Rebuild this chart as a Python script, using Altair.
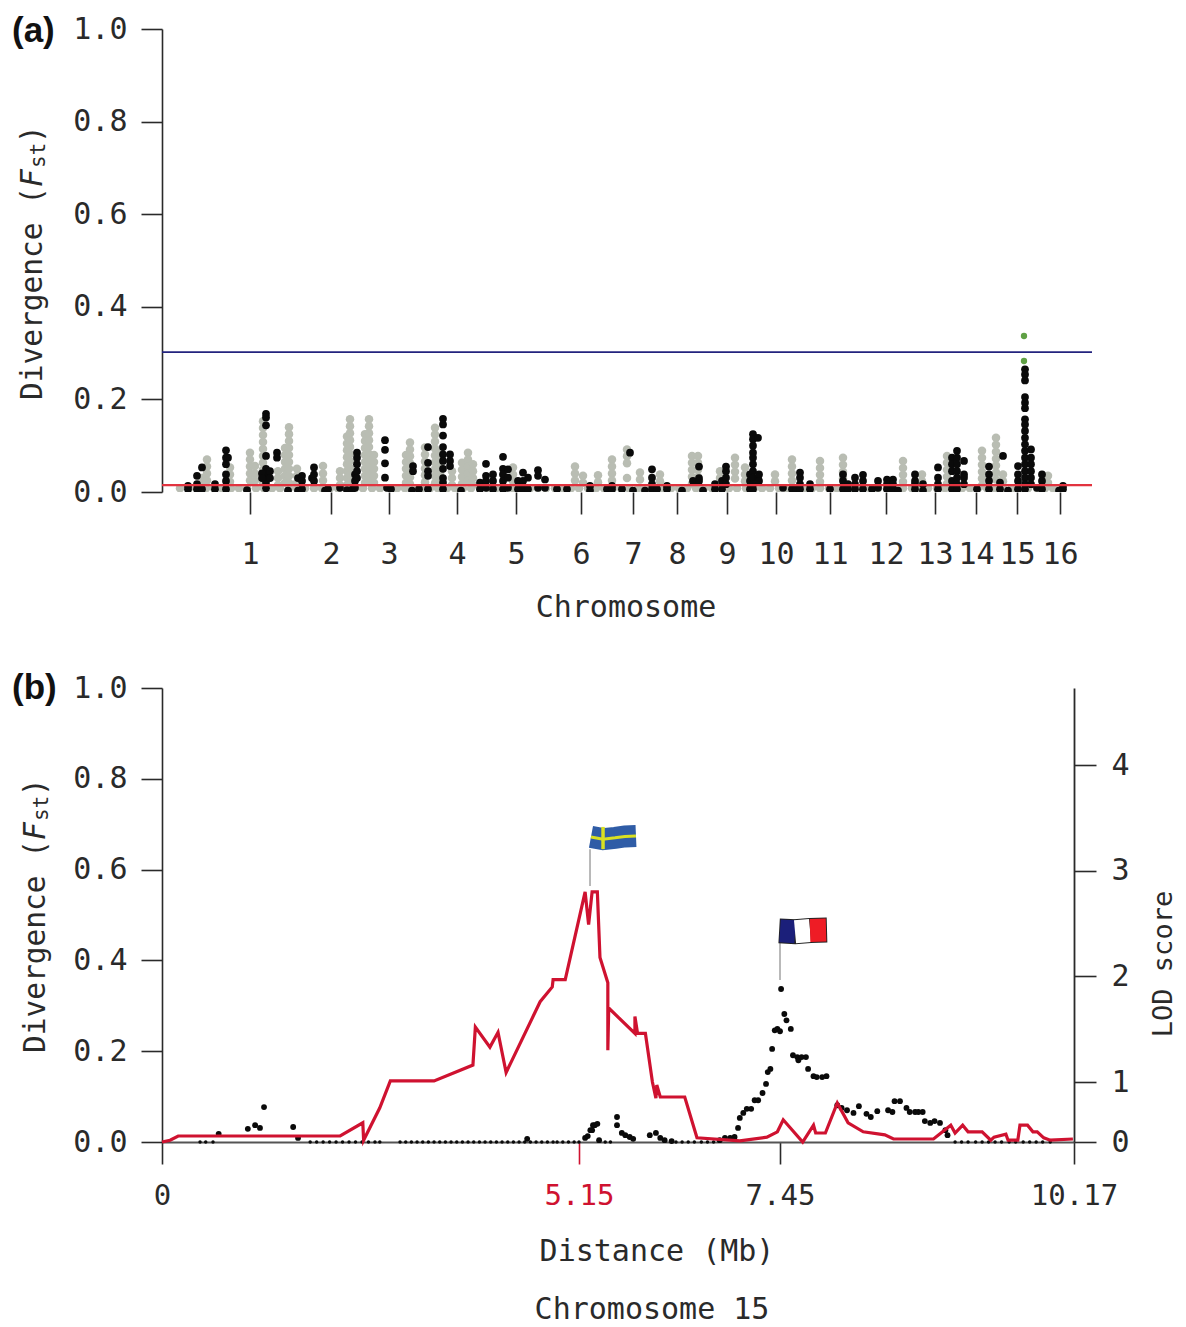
import altair as alt
import pandas as pd

# ---------- panel (a): genome scan, position in arbitrary genome units ----------
chrom_ticks = [88, 169, 227, 295, 354, 419, 471, 515, 565, 614, 668, 724, 773, 814, 855, 898]
upper_line = 0.302
lower_line = 0.015

gray_base = [18, 27, 35, 44, 52, 60, 69, 77, 85, 94, 102, 110, 118, 127, 135, 143, 152, 160, 168,
             176, 185, 193, 201, 210, 218, 226, 235, 243, 251, 260, 268, 276, 285, 293, 301, 309,
             318, 326, 334, 343, 351, 359, 368, 376, 384, 393, 401, 409, 417, 426, 434, 442, 451,
             459, 467, 476, 484, 492, 500, 509, 517, 525, 534, 542, 550, 559, 567, 575, 584, 592,
             600, 608, 617, 625, 633, 642, 650, 658, 667, 675, 683, 692, 700, 708, 716, 725, 733,
             741, 750, 758, 766, 775, 783, 791, 800, 808, 816, 825, 833, 841, 850, 858, 866, 875,
             883, 891, 899]

gray_cols = [
    (40, [.03, .015]),
    (45, [.07, .055, .04, .025]),
    (68, [.053, .038, .022]),
    (88, [.085, .07, .055, .04, .025]),
    (93, [.056, .04, .025]),
    (101, [.153, .138, .123, .108, .093, .078, .063, .048, .033, .018]),
    (116, [.045, .03, .015]),
    (123, [.095, .08, .065, .05, .035, .02]),
    (127, [.14, .125, .11, .095, .08, .065, .05, .035, .02]),
    (135, [.05, .035, .02]),
    (161, [.056, .04, .025]),
    (178, [.045, .03, .015]),
    (185, [.12, .105, .09, .075, .06, .045, .03, .015]),
    (188, [.157, .142, .127, .112, .097, .082, .067, .052, .037, .022]),
    (203, [.125, .11, .095, .08, .065, .05, .035, .02]),
    (207, [.157, .142, .127, .112, .097, .082, .067, .052, .037, .022]),
    (212, [.08, .065, .05, .035, .02]),
    (244, [.08, .065, .05, .035, .02]),
    (248, [.107, .092, .077, .062, .047, .032, .017]),
    (263, [.096, .081, .066, .051, .036, .021]),
    (273, [.139, .124, .109, .094, .079, .064, .049, .034, .019]),
    (278, [.085, .07, .055, .04, .025]),
    (290, [.045, .03, .015]),
    (300, [.063, .048, .033, .018]),
    (306, [.085, .07, .055, .04, .025]),
    (311, [.06, .045, .03, .015]),
    (351, [.053, .038, .023]),
    (413, [.055, .04, .025]),
    (421, [.035, .02]),
    (436, [.036, .021]),
    (450, [.07, .055, .04, .025]),
    (465, [.092, .077, .062, .03]),
    (478, [.042, .027]),
    (498, [.038, .023]),
    (530, [.078, .063, .048, .033, .018]),
    (536, [.078, .063, .048, .033]),
    (558, [.045, .03]),
    (573, [.074, .059, .044, .029]),
    (583, [.053, .038, .023]),
    (613, [.038, .023]),
    (630, [.07, .055, .04, .025]),
    (658, [.067, .052, .037, .022]),
    (681, [.074, .059, .044, .029]),
    (741, [.067, .052, .037, .022]),
    (760, [.038, .023]),
    (785, [.078, .063, .048, .033, .018]),
    (820, [.089, .074, .059, .044, .029, .014]),
    (834, [.117, .102, .087, .072, .057, .042, .027]),
    (841, [.038, .023]),
    (886, [.035, .02]),
]

black_cols = [
    (26, [.013, .006]), (35, [.035, .017, .006]), (40, [.053, .006]), (53, [.017, .006]),
    (64, [.09, .074, .06, .038, .024, .006]), (66, [.074]), (85, [.004]),
    (104, [.169, .161, .144, .078, .05, .04, .03, .02, .008]), (100, [.04, .03]), (108, [.045, .03]),
    (115, [.085, .074]), (126, [.003]), (136, [.03, .003]), (140, [.035, .024, .006]),
    (150, [.03]), (152, [.053, .038, .024]), (163, [.003]), (166, [.006]),
    (178, [.009]), (185, [.004]), (190, [.005]),
    (193, [.038, .024, .009]), (195, [.085, .074, .06, .045, .03]),
    (223, [.112, .091, .062, .031]), (225, [.009]), (229, [.006]),
    (251, [.056, .045]), (250, [.003]), (257, [.006]),
    (266, [.097, .063, .045, .035, .006]),
    (281, [.158, .146, .122, .097, .081, .067, .05, .03, .02, .006]), (288, [.081, .067, .056]),
    (299, [.003]), (318, [.02, .006]), (324, [.061, .035, .024, .009]),
    (331, [.038, .024, .006]), (341, [.076, .05, .038, .024, .006]), (346, [.049, .031, .009]),
    (356, [.024, .006]), (361, [.042, .024, .006]), (366, [.031, .006]),
    (376, [.047, .035, .009]), (383, [.027, .009]), (395, [.006]), (405, [.006]),
    (428, [.013, .003]), (445, [.006]), (450, [.013, .006]), (460, [.006]), (468, [.085]), (471, [.003]),
    (483, [.003]), (490, [.049, .031, .017, .006]), (495, [.006]), (505, [.013, .006]),
    (520, [.003]), (531, [.024]), (537, [.055, .03, .024]), (541, [.003]),
    (553, [.017, .006]), (560, [.024, .006]), (564, [.055, .045, .031, .017]),
    (588, [.038, .024, .006]),
    (591, [.125, .114, .1, .085, .074, .06, .045, .031, .017, .006]),
    (596, [.117, .03]), (597, [.038, .024]),
    (621, [.009]), (630, [.006]), (634, [.006]), (638, [.042, .031, .017, .006]),
    (648, [.017, .006]), (668, [.006]),
    (681, [.038, .024, .006]), (686, [.017, .006]), (693, [.031, .017, .006]), (701, [.037, .024, .006]),
    (710, [.006]), (716, [.024, .009]), (725, [.027, .017, .006]), (731, [.027, .017, .006]), (736, [.003]),
    (753, [.038, .024, .017, .006]), (761, [.017, .003]),
    (776, [.053, .031, .017, .006]),
    (790, [.074, .06, .045, .024, .006]), (795, [.089, .074, .06, .045, .031, .017, .006]),
    (802, [.067, .038, .031, .017]),
    (815, [.006]), (827, [.055, .038, .024, .006]), (838, [.02, .006]), (841, [.078]), (846, [.003]),
    (856, [.056, .038, .024, .006]),
    (863, [.265, .254, .241, .205, .193, .181, .157, .146, .132, .117, .103, .089, .074, .06, .045, .031, .017, .006]),
    (869, [.092, .074, .06, .045, .031, .017]),
    (875, [.009]), (880, [.038, .024, .006]), (897, [.003]), (901, [.013, .006]),
]
green_pos = [862, 862]
green_fst = [0.337, 0.283]

gray_rows = [{"pos": p, "fst": 0.008} for p in gray_base] + [
    {"pos": p, "fst": v} for p, vals in gray_cols for v in vals]
black_rows = [{"pos": p, "fst": v} for p, vals in black_cols for v in vals]

# ---------- panel (b): chromosome 15 ----------
x_ticks = [0, 5.15, 7.45, 10.17]
lod_ticks = [0, 1, 2, 3, 4]

dot_mb = [0.70, 1.06, 1.15, 1.21, 1.26, 1.62, 1.68, 4.51, 5.22, 5.25, 5.28, 5.30, 5.31, 5.33, 5.36, 5.38,
          5.585, 5.585, 5.64, 5.68, 5.73, 5.77, 5.96, 6.03, 6.08, 6.13, 6.21, 6.76, 6.82, 6.88, 6.93, 6.97,
          6.99, 7.03, 7.07, 7.12, 7.16, 7.20, 7.25, 7.29, 7.31, 7.34, 7.36, 7.39, 7.42, 7.45, 7.46, 7.49,
          7.51, 7.55, 7.57, 7.61, 7.62, 7.65, 7.69, 7.71, 7.76, 7.79, 7.84, 7.88, 7.98, 8.02, 8.07, 8.13,
          8.18, 8.25, 8.29, 8.35, 8.45, 8.49, 8.51, 8.56, 8.62, 8.65, 8.70, 8.73, 8.77, 8.79, 8.84, 8.88,
          8.93, 8.98, 9.00]
dot_fst = [.018, .029, .037, .031, .077, .033, .009, .007, .009, .013, .026, .026, .037, .037, .040, .004,
           .055, .037, .020, .015, .011, .007, .015, .020, .009, .004, .002, .004, .009, .009, .011, .031,
           .053, .064, .073, .073, .092, .092, .108, .128, .154, .161, .205, .246, .249, .244, .337, .282,
           .268, .249, .191, .187, .180, .187, .187, .161, .145, .143, .143, .145, .081, .075, .070, .064,
           .079, .062, .055, .068, .070, .066, .090, .090, .075, .066, .066, .066, .066, .046, .042, .046,
           .042, .026, .015]
baseline_mb = [0.47, 0.54, 0.63, 1.83, 1.91, 1.99, 2.07, 2.15, 2.23, 2.31, 2.39, 2.47, 2.55, 2.63, 2.69,
               2.94, 3.01, 3.08, 3.15, 3.22, 3.29, 3.36, 3.43, 3.50, 3.57, 3.64, 3.71, 3.78, 3.85, 3.92,
               3.99, 4.06, 4.13, 4.20, 4.27, 4.34, 4.41, 4.48, 4.55, 4.62, 4.69, 4.76, 4.83, 4.88, 4.95,
               5.02, 5.09, 5.15, 5.45, 5.51, 6.26, 6.33, 6.40, 6.47, 6.55, 6.62, 6.69, 9.07, 9.13, 9.19,
               9.26, 9.32, 9.38, 9.44, 9.50, 9.57, 9.63, 9.70, 9.76, 9.82, 9.88, 9.95]

lod_mb = [0, .10, .20, 2.20, 2.48, 2.49, 2.69, 2.82, 3.36, 3.84, 3.87, 4.05, 4.15, 4.25, 4.67, 4.82, 4.83,
          4.98, 5.22, 5.26, 5.30, 5.36, 5.39, 5.48, 5.48, 5.49, 5.79, 5.79, 5.82, 5.91, 5.99, 6.03, 6.04,
          6.08, 6.36, 6.50, 6.99, 7.30, 7.42, 7.48, 7.66, 7.76, 7.78, 7.87, 7.98, 8.08, 8.22, 8.42, 8.50,
          8.87, 9.03, 9.07, 9.14, 9.19, 9.32, 9.40, 9.43, 9.54, 9.56, 9.65, 9.67, 9.74, 9.79, 9.83, 9.89,
          9.95, 10.16]
lod_val = [0, .03, .10, .10, .32, .03, .57, 1.01, 1.01, 1.16, 1.52, 1.33, 1.47, 1.09, 1.76, 1.90, 1.97,
           1.97, 2.80, 2.49, 2.80, 2.80, 2.18, 1.94, 1.30, 1.70, 1.46, 1.62, 1.46, 1.46, 1.0, .73, .95,
           .75, .75, .07, .02, .08, .17, .37, 0, .28, .15, .15, .65, .32, .17, .12, .05,
           .05, .28, .15, .28, .17, .17, .03, .08, .13, .03, .03, .28, .28, .17, .17, .07,
           .03, .05]

# flags, in Mb / Fst
se_mb = [5.287, 5.425, 5.562, 5.676, 5.802]
se_fst = [.672, .667, .670, .673, .674]
fr_blue_mb, fr_blue_fst = [7.45, 7.589], [.465, .463]
fr_white_mb, fr_white_fst = [7.589, 7.728], [.463, .466]
fr_red_mb, fr_red_fst = [7.728, 7.876], [.466, .467]

MONO = "DejaVu Sans Mono"
INK = "#2a2a2a"
RED = "#cf1230"
A_W, A_H, B_W, B_H = 930, 463, 912, 454

xa = alt.X("pos:Q", scale=alt.Scale(domain=[0, A_W], nice=False, zero=False))
ya = alt.Y("fst:Q", scale=alt.Scale(domain=[0, 1], nice=False))
x_b_scale = alt.Scale(domain=x_ticks, range=[0, 417, 618, 912], nice=False, zero=False)
y_f_scale = alt.Scale(domain=[0, 1], nice=False)
lod_scale = alt.Scale(domain=[0, 1, 4.73], range=[454, 394, 0], nice=False, zero=False)


def left_axis():
    return alt.Axis(values=[0, .2, .4, .6, .8, 1], format=".1f", title=None, grid=False,
                    tickSize=21, tickWidth=1.6, tickColor=INK, domainColor=INK, domainWidth=1.6,
                    labelFont=MONO, labelFontSize=30, labelColor=INK, labelPadding=14)


def txt(s, x, y, size=30, font=MONO, align="center", angle=0, color=INK, weight="normal",
        style="normal", baseline="middle"):
    return alt.Chart(pd.DataFrame({"t": [s]})).mark_text(
        text=s, font=font, fontSize=size, align=align, baseline=baseline, angle=angle,
        color=color, fontWeight=weight, fontStyle=style
    ).encode(x=alt.value(x), y=alt.value(y))


def fst_title(x, y_bottom):
    return [
        txt("Divergence (", x, y_bottom, size=29.5, align="left", angle=270),
        txt("F", x, y_bottom - 213, size=29.5, align="left", angle=270, style="italic"),
        txt("st", x + 6, y_bottom - 232, size=21, align="left", angle=270),
        txt(")", x, y_bottom - 257, size=29.5, align="left", angle=270),
    ]


# ---- panel a ----
gray = alt.Chart(pd.DataFrame(gray_rows)).mark_circle(size=72, opacity=1, color="#b9bdb3", clip=True).encode(
    x=xa.axis(alt.Axis(values=chrom_ticks, title=None, grid=False, domain=False, tickSize=22, tickWidth=1.6,
                       tickColor=INK, labelFont=MONO, labelFontSize=30, labelColor=INK, labelPadding=25,
                       labelOverlap=False, labelFlush=False,
                       labelExpr="indexof(%s, datum.value) + 1" % str(chrom_ticks))),
    y=ya.axis(left_axis()))
black = alt.Chart(pd.DataFrame(black_rows)).mark_circle(size=60, opacity=1, color="#0a0a0a", clip=True).encode(x=xa, y=ya)
green = alt.Chart(pd.DataFrame({"pos": green_pos, "fst": green_fst})).mark_circle(
    size=40, opacity=1, color="#5fa044").encode(x=xa, y=ya)
red_rule = alt.Chart(pd.DataFrame({"fst": [lower_line]})).mark_rule(color="#e2333f", strokeWidth=2.2).encode(y=ya)
blue_rule = alt.Chart(pd.DataFrame({"fst": [upper_line]})).mark_rule(color="#23237e", strokeWidth=1.8).encode(y=ya)

panel_a = alt.layer(
    gray, black, green, red_rule, blue_rule,
    *fst_title(-129, 371),
    txt("(a)", -150, 2, size=35, font="Liberation Sans", align="left", weight="bold", color="#111"),
    txt("Chromosome", 464, 579, size=30),
).properties(width=A_W, height=A_H)

# ---- panel b ----
xb_axis = alt.Axis(values=x_ticks, format=".2~f", title=None, grid=False, tickSize=22, tickWidth=1.6,
                   tickColor={"condition": {"test": "datum.value == 5.15", "value": RED}, "value": INK},
                   labelColor={"condition": {"test": "datum.value == 5.15", "value": RED}, "value": INK},
                   domainColor="#555", domainWidth=2, labelFont=MONO, labelFontSize=29, labelPadding=17,
                   labelOverlap=False, labelFlush=False)
xb = alt.X("mb:Q", scale=x_b_scale)
yb = alt.Y("fst:Q", scale=y_f_scale)

dots = alt.Chart(pd.DataFrame({"mb": dot_mb, "fst": dot_fst})).mark_circle(size=34, opacity=1, color="#0a0a0a").encode(
    x=xb.axis(xb_axis), y=yb.axis(left_axis()))
base_dots = alt.Chart(pd.DataFrame({"mb": baseline_mb, "fst": [0.0] * len(baseline_mb)})).mark_circle(
    size=12, opacity=1, color="#0a0a0a").encode(x=xb, y=yb.axis(None))

lod_df = pd.DataFrame({"mb": lod_mb, "lod": lod_val, "i": range(len(lod_mb))})
lod_line = alt.Chart(lod_df).mark_line(color=RED, strokeWidth=3.2).encode(
    x=xb,
    y=alt.Y("lod:Q", scale=lod_scale, axis=alt.Axis(
        values=lod_ticks, orient="right", title=None, grid=False, tickSize=22, tickWidth=1.6, tickColor=INK,
        domainColor=INK, domainWidth=1.8, labelFont=MONO, labelFontSize=30, labelColor=INK, labelPadding=15,
        labelOverlap=False, labelFlush=False)),
    order="i:Q")


def flag_line(mb, fst, color, w):
    return alt.Chart(pd.DataFrame({"mb": mb, "fst": fst, "i": range(len(mb))})).mark_line(
        color=color, strokeWidth=w).encode(x=xb, y=yb.axis(None), order="i:Q")


def stem(mb, f1, f2):
    return alt.Chart(pd.DataFrame({"mb": [mb], "fst": [f1], "fst2": [f2]})).mark_rule(
        color="#a8a8a8", strokeWidth=1.6).encode(x=xb, y=yb.axis(None), y2="fst2:Q")


flags = [
    stem(5.276, .564, .645),
    flag_line(se_mb, se_fst, "#2f5ca6", 22),
    flag_line(se_mb, se_fst, "#d9e021", 3),
    alt.Chart(pd.DataFrame({"mb": [5.425], "fst": [.645], "fst2": [.694]})).mark_rule(
        color="#d9e021", strokeWidth=3.5).encode(x=xb, y=yb.axis(None), y2="fst2:Q"),
    stem(7.45, .357, .44),
    flag_line([7.44, 7.589, 7.728, 7.885], [.465, .463, .466, .467], "#222222", 25),
    flag_line(fr_blue_mb, fr_blue_fst, "#1b1f7a", 23),
    flag_line(fr_white_mb, fr_white_fst, "#ffffff", 23),
    flag_line(fr_red_mb, fr_red_fst, "#ee1c25", 23),
]

panel_b = alt.layer(
    dots, base_dots, *flags, lod_line,
    *fst_title(-126, 365),
    txt("(b)", -150, 0, size=35, font="Liberation Sans", align="left", weight="bold", color="#111"),
    txt("Distance (Mb)", 495, 564, size=30),
    txt("Chromosome 15", 490, 622, size=30),
    txt("LOD score", 1010, 276, size=27, angle=270, baseline="alphabetic"),
).resolve_scale(y="independent").properties(width=B_W, height=B_H)

chart = alt.vconcat(panel_a, panel_b, spacing=48).properties(
    padding={"left": 4, "top": 6, "right": 0, "bottom": 0}
).configure_view(stroke=None)

chart.save("out.html", embed_options={"renderer": "svg", "actions": False})
